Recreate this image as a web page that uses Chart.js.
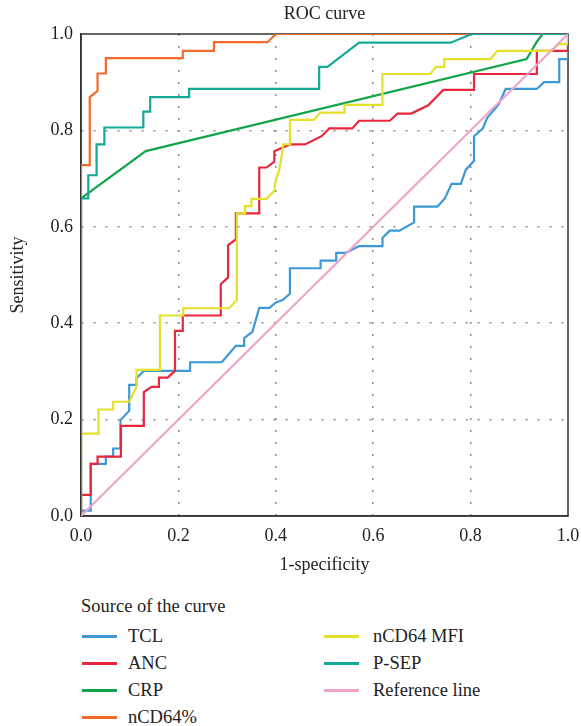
<!DOCTYPE html>
<html>
<head>
<meta charset="utf-8">
<script src="https://cdn.jsdelivr.net/npm/chart.js@4"></script>
<style>
  body { margin: 0; background: #fff; font-family: "Liberation Serif", serif; color: #222; }
  #wrap { position: relative; width: 581px; height: 726px; }
  #box { position: absolute; left: 0; top: 0; width: 581px; height: 580px; }
  .leg { position: absolute; font-size: 18.5px; line-height: 20px; white-space: nowrap; }
  .leg .ln { position: absolute; height: 3px; width: 35px; }
</style>
</head>
<body>
<div id="wrap">
  <div id="box"><canvas id="roc"></canvas></div>
  <div id="legend"></div>
</div>
<script>
// --- dados: pares [1-especificidade, sensibilidade] ---
const tcl = [[0,0],[0,0.011],[0.02,0.011],[0.02,0.108],[0.051,0.108],[0.051,0.123],[0.066,0.123],[0.066,0.14],
  [0.081,0.14],[0.081,0.199],[0.099,0.218],[0.099,0.272],[0.114,0.272],[0.114,0.286],[0.129,0.301],[0.224,0.301],
  [0.224,0.319],[0.289,0.319],[0.318,0.353],[0.335,0.353],[0.335,0.369],[0.352,0.382],[0.366,0.432],[0.387,0.432],
  [0.4,0.443],[0.414,0.448],[0.429,0.461],[0.429,0.514],[0.492,0.514],[0.492,0.53],[0.524,0.53],[0.524,0.546],
  [0.544,0.546],[0.571,0.56],[0.619,0.56],[0.619,0.577],[0.634,0.592],[0.654,0.592],[0.684,0.609],[0.684,0.642],
  [0.732,0.642],[0.747,0.659],[0.761,0.689],[0.78,0.689],[0.79,0.718],[0.807,0.737],[0.807,0.788],[0.825,0.804],
  [0.834,0.826],[0.857,0.853],[0.872,0.886],[0.936,0.886],[0.951,0.9],[0.982,0.9],[0.982,0.948],[1,0.948],[1,1]];
const anc = [[0,0],[0,0.044],[0.02,0.044],[0.02,0.108],[0.034,0.108],[0.034,0.123],[0.082,0.123],[0.082,0.187],
  [0.129,0.187],[0.129,0.257],[0.145,0.268],[0.16,0.268],[0.16,0.287],[0.178,0.287],[0.193,0.301],[0.193,0.384],
  [0.209,0.384],[0.209,0.416],[0.287,0.416],[0.287,0.481],[0.302,0.495],[0.302,0.562],[0.318,0.574],[0.318,0.628],
  [0.366,0.628],[0.366,0.723],[0.381,0.723],[0.397,0.735],[0.397,0.757],[0.429,0.771],[0.46,0.771],[0.494,0.788],
  [0.51,0.804],[0.557,0.804],[0.571,0.82],[0.634,0.82],[0.65,0.835],[0.678,0.835],[0.713,0.852],[0.744,0.884],
  [0.807,0.884],[0.807,0.917],[0.936,0.917],[0.936,0.965],[1,0.965],[1,1]];
const crp = [[0,0],[0,0.659],[0.133,0.757],[0.915,0.948],[0.936,0.984],[0.948,1],[1,1]];
const ncd64pct = [[0,0],[0,0.728],[0.018,0.728],[0.018,0.869],[0.034,0.882],[0.034,0.918],[0.051,0.918],
  [0.051,0.95],[0.209,0.95],[0.209,0.965],[0.273,0.965],[0.273,0.983],[0.383,0.983],[0.4,1],[1,1]];
const ncd64mfi = [[0,0],[0,0.171],[0.036,0.171],[0.036,0.221],[0.066,0.221],[0.066,0.237],[0.099,0.237],
  [0.114,0.268],[0.114,0.303],[0.162,0.303],[0.162,0.416],[0.21,0.416],[0.21,0.431],[0.304,0.431],[0.32,0.448],
  [0.32,0.628],[0.337,0.628],[0.337,0.643],[0.35,0.643],[0.35,0.658],[0.381,0.658],[0.397,0.675],[0.4,0.697],
  [0.407,0.718],[0.413,0.752],[0.415,0.771],[0.429,0.771],[0.429,0.822],[0.478,0.822],[0.492,0.837],[0.541,0.837],
  [0.541,0.853],[0.619,0.853],[0.619,0.917],[0.717,0.917],[0.729,0.932],[0.746,0.932],[0.746,0.948],[0.841,0.948],
  [0.855,0.965],[0.966,0.965],[0.981,0.979],[1,0.979],[1,1]];
const psep = [[0,0],[0,0.659],[0.015,0.659],[0.015,0.707],[0.032,0.707],[0.032,0.771],[0.048,0.771],[0.048,0.806],
  [0.128,0.806],[0.128,0.839],[0.142,0.839],[0.142,0.869],[0.222,0.869],[0.222,0.886],[0.489,0.886],[0.489,0.932],
  [0.506,0.932],[0.571,0.982],[0.759,0.982],[0.802,1],[1,1]];
const refLine = [[0,0],[1,1]];

const seriesNames = ['TCL', 'ANC', 'CRP', 'nCD64%', 'nCD64 MFI', 'P-SEP', 'Reference line'];
const seriesData = [tcl, anc, crp, ncd64pct, ncd64mfi, psep, refLine];
const seriesColors = ['#3d98d6', '#e8263c', '#14a54a', '#f26b2a', '#e5e02c', '#15a997', '#eea5c9'];
const axisTicks = [0, 0.2, 0.4, 0.6, 0.8, 1.0];

// moldura do gráfico (caixa completa)
const framePlugin = {
  id: 'frame',
  beforeDatasetsDraw(chart) {
    const { ctx, chartArea: a } = chart;
    ctx.save();
    ctx.strokeStyle = '#333';
    ctx.lineWidth = 1.5;
    ctx.strokeRect(a.left, a.top, a.right - a.left, a.bottom - a.top);
    ctx.restore();
  }
};

const gridOpts = {
  color: (c) => (c.tick && (c.tick.value === 0 || c.tick.value === 1)) ? 'rgba(0,0,0,0)' : '#8c8c8c',
  lineWidth: 1.5,
  drawTicks: false
};
const borderOpts = { display: true, color: '#333', width: 1.5, dash: [2, 10] };
const tickFont = { family: 'Liberation Serif', size: 18 };

const datasets = seriesData.map((pts, i) => ({
  label: seriesNames[i],
  data: pts.map(p => ({ x: p[0], y: p[1] })),
  borderColor: seriesColors[i],
  backgroundColor: seriesColors[i],
  borderWidth: 2.2,
  pointRadius: 0,
  tension: 0,
  fill: false,
  order: seriesNames.length - i
}));

new Chart(document.getElementById('roc'), {
  type: 'line',
  data: { datasets },
  plugins: [framePlugin],
  options: {
    responsive: true,
    maintainAspectRatio: false,
    animation: false,
    layout: { padding: 0 },
    plugins: {
      legend: { display: false },
      tooltip: { enabled: false },
      title: {
        display: true,
        text: 'ROC curve',
        fullSize: false,
        color: '#222',
        font: { family: 'Liberation Serif', size: 18, weight: 'normal' },
        padding: { top: 3, bottom: 9.4 }
      }
    },
    scales: {
      x: {
        type: 'linear',
        min: 0, max: 1,
        afterBuildTicks: (s) => { s.ticks = axisTicks.map(v => ({ value: v })); },
        afterFit: (s) => { s.height = 64; s.paddingRight = 13; s.paddingLeft = 0; },
        grid: gridOpts,
        border: borderOpts,
        ticks: { color: '#222', font: tickFont, padding: 9, maxRotation: 0, callback: v => v.toFixed(1) },
        title: { display: true, text: '1-specificity', color: '#222', font: tickFont, padding: { top: 0, bottom: 4 } }
      },
      y: {
        type: 'linear',
        min: 0, max: 1,
        afterBuildTicks: (s) => { s.ticks = axisTicks.map(v => ({ value: v })); },
        afterFit: (s) => { s.width = 81; },
        grid: gridOpts,
        border: borderOpts,
        ticks: { color: '#222', font: tickFont, padding: 8, callback: v => v.toFixed(1) },
        title: { display: true, text: 'Sensitivity', color: '#222', font: tickFont, padding: { top: 7, bottom: 0 } }
      }
    }
  }
});

// legenda em HTML, duas colunas como no original
const legend = document.getElementById('legend');
const head = document.createElement('div');
head.className = 'leg';
head.style.left = '81px';
head.style.top = '596px';
head.textContent = 'Source of the curve';
legend.appendChild(head);
seriesNames.forEach((name, i) => {
  const col = i < 4 ? 0 : 1;
  const row = i < 4 ? i : i - 4;
  const cy = 636 + row * 27;
  const item = document.createElement('div');
  item.className = 'leg';
  item.style.left = (col ? 324 : 82) + 'px';
  item.style.top = (cy - 10) + 'px';
  item.innerHTML = '<span class="ln" style="left:0;top:9px;background:' + seriesColors[i] + '"></span>' +
    '<span style="position:absolute;left:' + (col ? 49 : 46) + 'px;top:0">' + name + '</span>';
  legend.appendChild(item);
});
</script>
</body>
</html>
